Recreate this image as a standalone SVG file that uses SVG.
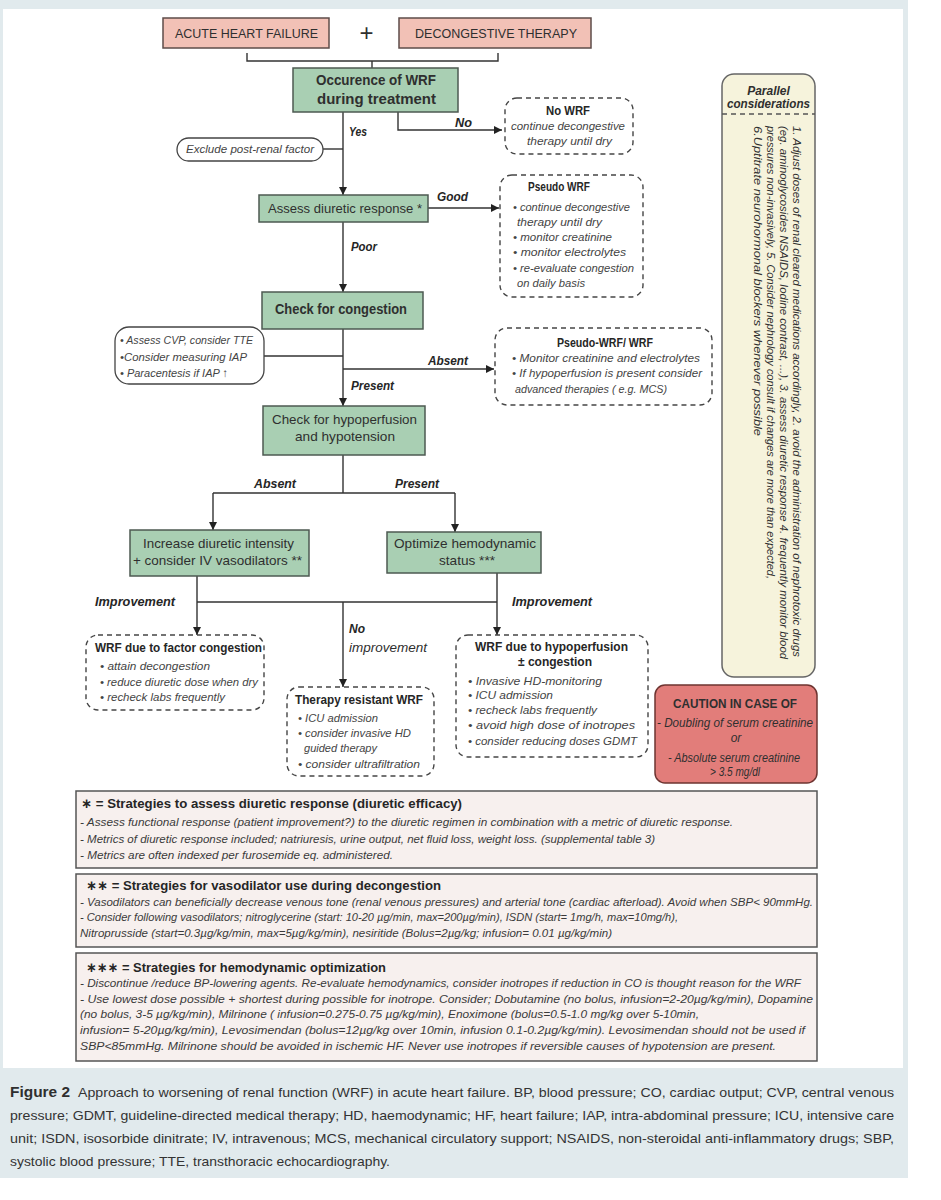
<svg xmlns="http://www.w3.org/2000/svg" width="941" height="1200" viewBox="0 0 941 1200">
<style>
text{font-family:"Liberation Sans",Arial,"DejaVu Sans",sans-serif;fill:#2f2f2f}
.b{font-weight:bold}
.i{font-style:italic}
.bi{font-weight:bold;font-style:italic;font-size:12.5px;fill:#262626}
.bt{font-size:12px;font-weight:bold;fill:#262626}
.bd{font-size:11.5px;font-style:italic;fill:#444}
.st{font-size:13.5px;font-weight:bold;fill:#262626}
.sb{font-size:10.5px;font-style:italic;fill:#3a3a3a}
.cap{font-size:13px;fill:#333}
.pink{fill:#f2c1b6;stroke:#5e4c49;stroke-width:1.5}
.green{fill:#a9cfb3;stroke:#4d5a52;stroke-width:1.5}
.dash{fill:#fff;stroke:#454545;stroke-width:1.4;stroke-dasharray:5 4}
.strat{fill:#f7f0ee;stroke:#555;stroke-width:1.5}
.conn path{fill:none;stroke:#333;stroke-width:1.4}
</style>
<defs>
<marker id="ah" viewBox="0 0 10 10" refX="10" refY="5" markerWidth="9" markerHeight="8" markerUnits="userSpaceOnUse" orient="auto">
<path d="M0,0 L10,5 L0,10 z" fill="#222"/>
</marker>
</defs>
<rect x="0" y="0" width="908" height="1178" fill="#e1eaed"/>
<rect x="3" y="9" width="900" height="1059" fill="#fff"/>

<g class="conn" id="connectors">
<path d="M247,53 V61 H498 V53"/>
<path d="M372,61 V68"/>
<path d="M343,112 V195" marker-end="url(#ah)"/>
<path d="M398,112 V130 H502" marker-end="url(#ah)"/>
<path d="M323,149 H343"/>
<path d="M428,208 H499" marker-end="url(#ah)"/>
<path d="M343,222 V292" marker-end="url(#ah)"/>
<path d="M264,356 H343"/>
<path d="M343,369 H494" marker-end="url(#ah)"/>
<path d="M343,329 V406" marker-end="url(#ah)"/>
<path d="M343,455 V493 M213,493 H455"/>
<path d="M213,493 V530" marker-end="url(#ah)"/>
<path d="M455,493 V532" marker-end="url(#ah)"/>
<path d="M197,576 V602 M497,573 V602 M197,602 H497"/>
<path d="M197,602 V635" marker-end="url(#ah)"/>
<path d="M497,602 V635" marker-end="url(#ah)"/>
<path d="M343,602 V687" marker-end="url(#ah)"/>
</g>

<g id="labels">
<text class="bi" x="349" y="136" textLength="18" lengthAdjust="spacingAndGlyphs">Yes</text>
<text class="bi" x="455" y="127" textLength="17" lengthAdjust="spacingAndGlyphs">No</text>
<text class="bi" x="437" y="201" textLength="31" lengthAdjust="spacingAndGlyphs">Good</text>
<text class="bi" x="351" y="251" textLength="26" lengthAdjust="spacingAndGlyphs">Poor</text>
<text class="bi" x="428" y="365" textLength="40" lengthAdjust="spacingAndGlyphs">Absent</text>
<text class="bi" x="351" y="390" textLength="43" lengthAdjust="spacingAndGlyphs">Present</text>
<text class="bi" x="254" y="488" textLength="42" lengthAdjust="spacingAndGlyphs">Absent</text>
<text class="bi" x="395" y="488" textLength="44" lengthAdjust="spacingAndGlyphs">Present</text>
<text class="bi" x="95" y="606" textLength="80" lengthAdjust="spacingAndGlyphs">Improvement</text>
<text class="bi" x="512" y="606" textLength="80" lengthAdjust="spacingAndGlyphs">Improvement</text>
<text class="bi" x="349" y="633" textLength="16" lengthAdjust="spacingAndGlyphs">No</text>
<text class="i" x="349" y="652" font-size="12.5" textLength="78" lengthAdjust="spacingAndGlyphs">improvement</text>
</g>

<g id="n-ahf">
<rect class="pink" x="163" y="18" width="166" height="30"/>
<text x="175" y="38" font-size="13.5" textLength="143" lengthAdjust="spacingAndGlyphs">ACUTE HEART FAILURE</text>
</g>
<g id="n-plus">
<text x="366.5" y="41" font-size="24" text-anchor="middle" fill="#444">+</text>
</g>
<g id="n-dt">
<rect class="pink" x="399" y="18" width="192" height="30"/>
<text x="415" y="38" font-size="13.5" textLength="162" lengthAdjust="spacingAndGlyphs">DECONGESTIVE THERAPY</text>
</g>

<g id="n-occ">
<rect class="green" x="293" y="68" width="165" height="44"/>
<text class="b" x="316" y="85" font-size="14.5" textLength="120" lengthAdjust="spacingAndGlyphs">Occurence of WRF</text>
<text class="b" x="317" y="104" font-size="14.5" textLength="119" lengthAdjust="spacingAndGlyphs">during treatment</text>
</g>

<g id="n-excl">
<rect x="177" y="138" width="146" height="23" rx="11.5" fill="#fff" stroke="#444" stroke-width="1.3"/>
<text class="bd" x="186" y="153" textLength="128" lengthAdjust="spacingAndGlyphs">Exclude post-renal  factor</text>
</g>

<g id="n-nowrf">
<rect class="dash" x="505" y="98" width="128" height="56" rx="12"/>
<text class="bt" x="546" y="115" textLength="44" lengthAdjust="spacingAndGlyphs">No WRF</text>
<text class="bd" x="511" y="130" textLength="114" lengthAdjust="spacingAndGlyphs">continue decongestive</text>
<text class="bd" x="527" y="145" textLength="85" lengthAdjust="spacingAndGlyphs">therapy until dry</text>
</g>

<g id="n-assess">
<rect class="green" x="259" y="195" width="169" height="27"/>
<text x="268" y="213" font-size="13.5" textLength="154" lengthAdjust="spacingAndGlyphs">Assess diuretic response *</text>
</g>

<g id="n-pseudo">
<rect class="dash" x="500" y="175" width="143" height="122" rx="12"/>
<text class="bt" x="528" y="191" textLength="62" lengthAdjust="spacingAndGlyphs">Pseudo WRF</text>
<text class="bd" x="513" y="211" textLength="117" lengthAdjust="spacingAndGlyphs">• continue decongestive</text>
<text class="bd" x="517" y="226" textLength="85" lengthAdjust="spacingAndGlyphs">therapy until dry</text>
<text class="bd" x="513" y="241" textLength="99" lengthAdjust="spacingAndGlyphs">• monitor creatinine</text>
<text class="bd" x="513" y="256" textLength="113" lengthAdjust="spacingAndGlyphs">• monitor electrolytes</text>
<text class="bd" x="513" y="272" textLength="121" lengthAdjust="spacingAndGlyphs">• re-evaluate congestion</text>
<text class="bd" x="517" y="287" textLength="68" lengthAdjust="spacingAndGlyphs">on daily basis</text>
</g>

<g id="n-cong">
<rect class="green" x="262" y="292" width="161" height="37"/>
<text class="b" x="275" y="314" font-size="14.5" textLength="132" lengthAdjust="spacingAndGlyphs">Check for congestion</text>
</g>

<g id="n-note">
<rect x="115" y="327" width="149" height="57" rx="14" fill="#fff" stroke="#444" stroke-width="1.3"/>
<text class="bd" x="120" y="344" textLength="133" lengthAdjust="spacingAndGlyphs">• Assess  CVP, consider TTE</text>
<text class="bd" x="120" y="361" textLength="127" lengthAdjust="spacingAndGlyphs">•Consider measuring IAP</text>
<text class="bd" x="120" y="377" textLength="108" lengthAdjust="spacingAndGlyphs">• Paracentesis if IAP ↑</text>
</g>

<g id="n-pwrf">
<rect class="dash" x="495" y="328" width="217" height="77" rx="12"/>
<text class="bt" x="557" y="347" textLength="96" lengthAdjust="spacingAndGlyphs">Pseudo-WRF/ WRF</text>
<text class="bd" x="512" y="362" textLength="188" lengthAdjust="spacingAndGlyphs">• Monitor creatinine and electrolytes</text>
<text class="bd" x="512" y="377" textLength="190" lengthAdjust="spacingAndGlyphs">• If hypoperfusion is present consider</text>
<text class="bd" x="515" y="393" textLength="152" lengthAdjust="spacingAndGlyphs">advanced therapies ( e.g. MCS)</text>
</g>

<g id="n-hypo">
<rect class="green" x="263" y="406" width="162" height="49"/>
<text x="272" y="424" font-size="13.5" textLength="145" lengthAdjust="spacingAndGlyphs">Check for hypoperfusion</text>
<text x="295" y="441" font-size="13.5" textLength="100" lengthAdjust="spacingAndGlyphs">and hypotension</text>
</g>

<g id="n-incr">
<rect class="green" x="130" y="530" width="179" height="46"/>
<text x="143" y="548" font-size="13.5" textLength="151" lengthAdjust="spacingAndGlyphs">Increase diuretic intensity</text>
<text x="133" y="565" font-size="13.5" textLength="169" lengthAdjust="spacingAndGlyphs">+ consider IV vasodilators **</text>
</g>

<g id="n-opt">
<rect class="green" x="387" y="532" width="154" height="41"/>
<text x="394" y="548" font-size="13.5" textLength="142" lengthAdjust="spacingAndGlyphs">Optimize hemodynamic</text>
<text x="439" y="565" font-size="13.5" textLength="56" lengthAdjust="spacingAndGlyphs">status ***</text>
</g>

<g id="n-wrfcong">
<rect class="dash" x="86" y="635" width="178" height="75" rx="12"/>
<text class="bt" x="95" y="652" textLength="167" lengthAdjust="spacingAndGlyphs">WRF due to factor congestion</text>
<text class="bd" x="100" y="670" textLength="110" lengthAdjust="spacingAndGlyphs">• attain decongestion</text>
<text class="bd" x="100" y="686" textLength="158" lengthAdjust="spacingAndGlyphs">• reduce diuretic dose when dry</text>
<text class="bd" x="100" y="701" textLength="125" lengthAdjust="spacingAndGlyphs">• recheck labs frequently</text>
</g>

<g id="n-resist">
<rect class="dash" x="287" y="687" width="147" height="89" rx="12"/>
<text class="bt" x="295" y="704" textLength="128" lengthAdjust="spacingAndGlyphs">Therapy resistant WRF</text>
<text class="bd" x="298" y="722" textLength="80" lengthAdjust="spacingAndGlyphs">• ICU admission</text>
<text class="bd" x="298" y="737" textLength="113" lengthAdjust="spacingAndGlyphs">• consider invasive HD</text>
<text class="bd" x="304" y="752" textLength="73" lengthAdjust="spacingAndGlyphs">guided therapy</text>
<text class="bd" x="298" y="768" textLength="122" lengthAdjust="spacingAndGlyphs">• consider ultrafiltration</text>
</g>

<g id="n-wrfhypo">
<rect class="dash" x="456" y="635" width="192" height="122" rx="12"/>
<text class="bt" x="475" y="651" textLength="153" lengthAdjust="spacingAndGlyphs">WRF due to hypoperfusion</text>
<text class="bt" x="518" y="666" textLength="74" lengthAdjust="spacingAndGlyphs">± congestion</text>
<text class="bd" x="468" y="685" textLength="134" lengthAdjust="spacingAndGlyphs">• Invasive HD-monitoring</text>
<text class="bd" x="468" y="699" textLength="85" lengthAdjust="spacingAndGlyphs">• ICU admission</text>
<text class="bd" x="468" y="714" textLength="129" lengthAdjust="spacingAndGlyphs">• recheck labs frequently</text>
<text class="bd" x="468" y="729" textLength="167" lengthAdjust="spacingAndGlyphs">• avoid high dose of inotropes</text>
<text class="bd" x="468" y="745" textLength="169" lengthAdjust="spacingAndGlyphs">• consider reducing doses GDMT</text>
</g>

<g id="n-parallel">
<rect x="722" y="74" width="93" height="603" rx="12" fill="#f6f3dc" stroke="#666" stroke-width="1.5"/>
<text class="i b" x="768.5" y="95" font-size="12" text-anchor="middle" fill="#333">Parallel</text>
<text class="i b" x="727" y="108" font-size="12" fill="#333" textLength="83" lengthAdjust="spacingAndGlyphs">considerations</text>
<path d="M722,114 H815" stroke="#555" stroke-width="1.3" stroke-dasharray="5 4" fill="none"/>
<g font-size="11" font-style="italic">
<text transform="translate(793,126) rotate(90)" fill="#3a3a3a" textLength="531" lengthAdjust="spacingAndGlyphs">1. Adjust doses of renal cleared medications accordingly, 2. avoid the administration of nephrotoxic drugs</text>
<text transform="translate(780,126) rotate(90)" fill="#3a3a3a" textLength="533" lengthAdjust="spacingAndGlyphs">(eg. aminoglycosides NSAIDS, Iodine contrast, ...), 3. assess diuretic response 4. frequently monitor blood</text>
<text transform="translate(767,126) rotate(90)" fill="#3a3a3a" textLength="453" lengthAdjust="spacingAndGlyphs">pressures non-invasively, 5. Consider nephrology consult if changes are more than expected,</text>
<text transform="translate(754,126) rotate(90)" fill="#3a3a3a" textLength="310" lengthAdjust="spacingAndGlyphs">6.Uptitrate neurohormonal blockers whenever possible</text>
</g>
</g>

<g id="n-caution">
<rect x="655" y="685" width="162" height="98" rx="10" fill="#e27d7a" stroke="#6e3431" stroke-width="1.5"/>
<text class="b" x="673" y="708" font-size="13" fill="#3a1c1c" textLength="124" lengthAdjust="spacingAndGlyphs">CAUTION IN CASE OF</text>
<text class="i" x="657" y="727" font-size="12" fill="#5a2624" textLength="156" lengthAdjust="spacingAndGlyphs">- Doubling of serum creatinine</text>
<text class="i" x="736" y="742" font-size="12" fill="#5a2624" text-anchor="middle">or</text>
<text class="i" x="668" y="762" font-size="12" fill="#5a2624" textLength="132" lengthAdjust="spacingAndGlyphs">- Absolute serum creatinine</text>
<text class="i" x="710" y="776" font-size="12" fill="#5a2624" textLength="50" lengthAdjust="spacingAndGlyphs">&gt; 3.5 mg/dl</text>
</g>

<g id="n-strat1">
<rect class="strat" x="76" y="791" width="741" height="77"/>
<text class="st" x="81" y="808" textLength="381" lengthAdjust="spacingAndGlyphs">∗ = Strategies to assess diuretic response  (diuretic efficacy)</text>
<text class="sb" x="80" y="826" textLength="653" lengthAdjust="spacingAndGlyphs">- Assess functional response (patient improvement?) to the diuretic regimen in combination with a metric of diuretic response.</text>
<text class="sb" x="80" y="843" textLength="575" lengthAdjust="spacingAndGlyphs">- Metrics of diuretic response included; natriuresis, urine output, net fluid loss, weight loss. (supplemental table 3)</text>
<text class="sb" x="80" y="859" textLength="313" lengthAdjust="spacingAndGlyphs">- Metrics are often indexed per furosemide eq. administered.</text>
</g>

<g id="n-strat2">
<rect class="strat" x="76" y="874" width="741" height="73"/>
<text class="st" x="86" y="890" textLength="355" lengthAdjust="spacingAndGlyphs">∗∗ = Strategies for vasodilator use during decongestion</text>
<text class="sb" x="80" y="906" textLength="733" lengthAdjust="spacingAndGlyphs">- Vasodilators can beneficially decrease venous tone (renal venous pressures) and arterial tone (cardiac afterload). Avoid when SBP&lt; 90mmHg.</text>
<text class="sb" x="80" y="921" textLength="598" lengthAdjust="spacingAndGlyphs">- Consider following vasodilators; nitroglycerine (start: 10-20 µg/min, max=200µg/min), ISDN (start= 1mg/h, max=10mg/h),</text>
<text class="sb" x="80" y="937" textLength="532" lengthAdjust="spacingAndGlyphs">Nitroprusside (start=0.3µg/kg/min, max=5µg/kg/min), nesiritide (Bolus=2µg/kg; infusion= 0.01 µg/kg/min)</text>
</g>

<g id="n-strat3">
<rect class="strat" x="76" y="953" width="741" height="108"/>
<text class="st" x="86" y="972" textLength="300" lengthAdjust="spacingAndGlyphs">∗∗∗ = Strategies for hemodynamic optimization</text>
<text class="sb" x="80" y="987" textLength="721" lengthAdjust="spacingAndGlyphs">- Discontinue /reduce BP-lowering agents. Re-evaluate hemodynamics, consider inotropes if reduction in CO is thought reason for the WRF</text>
<text class="sb" x="80" y="1003" textLength="733" lengthAdjust="spacingAndGlyphs">- Use lowest dose possible + shortest during possible for inotrope. Consider; Dobutamine (no bolus, infusion=2-20µg/kg/min), Dopamine</text>
<text class="sb" x="80" y="1018" textLength="619" lengthAdjust="spacingAndGlyphs">(no bolus, 3-5 µg/kg/min), Milrinone ( infusion=0.275-0.75 µg/kg/min), Enoximone (bolus=0.5-1.0 mg/kg over 5-10min,</text>
<text class="sb" x="80" y="1034" textLength="725" lengthAdjust="spacingAndGlyphs">infusion= 5-20µg/kg/min), Levosimendan (bolus=12µg/kg over 10min, infusion 0.1-0.2µg/kg/min). Levosimendan should not be used if</text>
<text class="sb" x="80" y="1050" textLength="696" lengthAdjust="spacingAndGlyphs">SBP&lt;85mmHg. Milrinone should be avoided in ischemic HF. Never use inotropes if reversible causes of hypotension are present.</text>
</g>

<g id="caption">
<text class="b" x="10" y="1097" font-size="14" fill="#c9385c" textLength="60" lengthAdjust="spacingAndGlyphs">Figure 2</text>
<text class="cap" x="78" y="1097" textLength="816" lengthAdjust="spacingAndGlyphs">Approach to worsening of renal function (WRF) in acute heart failure. BP, blood pressure; CO, cardiac output; CVP, central venous</text>
<text class="cap" x="10" y="1120" textLength="884" lengthAdjust="spacingAndGlyphs">pressure; GDMT, guideline-directed medical therapy; HD, haemodynamic; HF, heart failure; IAP, intra-abdominal pressure; ICU, intensive care</text>
<text class="cap" x="10" y="1143" textLength="884" lengthAdjust="spacingAndGlyphs">unit; ISDN, isosorbide dinitrate; IV, intravenous; MCS, mechanical circulatory support; NSAIDS, non-steroidal anti-inflammatory drugs; SBP,</text>
<text class="cap" x="10" y="1166" textLength="380" lengthAdjust="spacingAndGlyphs">systolic blood pressure; TTE, transthoracic echocardiography.</text>
</g>
</svg>
